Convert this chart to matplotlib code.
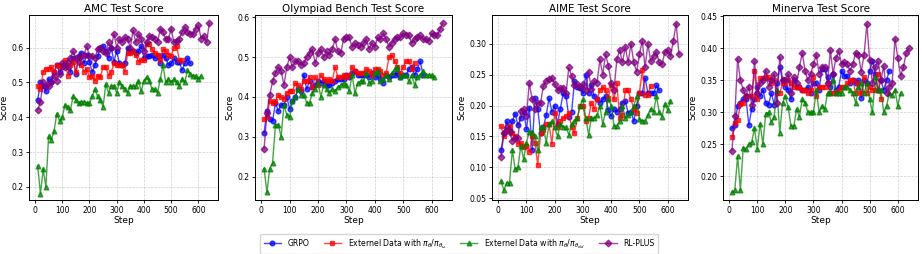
import numpy as np
import matplotlib
matplotlib.use("Agg")
import matplotlib.pyplot as plt

# steps: every 10 steps starting at 10
steps_grpo = np.arange(10, 580, 10)
steps_ext_w = np.arange(10, 550, 10)
steps_ext_old = np.arange(10, 620, 10)
steps_plus = np.arange(10, 650, 10)

# ---- AMC ----
amc_grpo = [0.45, 0.50, 0.49, 0.475, 0.51, 0.50, 0.53, 0.55, 0.53, 0.545,
            0.55, 0.545, 0.53, 0.57, 0.525, 0.575, 0.585, 0.555, 0.58, 0.56,
            0.53, 0.55, 0.575, 0.60, 0.605, 0.59, 0.57, 0.60, 0.56, 0.59,
            0.555, 0.55, 0.555, 0.60, 0.59, 0.59, 0.585, 0.59, 0.605, 0.57,
            0.575, 0.575, 0.58, 0.57, 0.575, 0.555, 0.58, 0.57, 0.55, 0.555,
            0.57, 0.56, 0.56, 0.535, 0.555, 0.57, 0.555]
amc_ext_w = [0.49, 0.48, 0.53, 0.54, 0.54, 0.545, 0.53, 0.55, 0.545, 0.55,
             0.565, 0.52, 0.55, 0.56, 0.53, 0.57, 0.55, 0.53, 0.54, 0.515,
             0.52, 0.505, 0.52, 0.515, 0.545, 0.545, 0.52, 0.53, 0.555, 0.55,
             0.55, 0.55, 0.53, 0.585, 0.585, 0.59, 0.58, 0.56, 0.565, 0.565,
             0.61, 0.61, 0.595, 0.585, 0.58, 0.565, 0.595, 0.59, 0.58, 0.575,
             0.60, 0.605, 0.565, 0.565]
amc_ext_old = [0.26, 0.18, 0.25, 0.20, 0.345, 0.335, 0.36, 0.41, 0.39, 0.40,
               0.435, 0.43, 0.42, 0.46, 0.45, 0.44, 0.445, 0.445, 0.44, 0.44,
               0.46, 0.48, 0.46, 0.45, 0.43, 0.495, 0.47, 0.49, 0.49, 0.47,
               0.50, 0.49, 0.48, 0.47, 0.49, 0.49, 0.49, 0.505, 0.475, 0.505,
               0.515, 0.505, 0.48, 0.48, 0.47, 0.51, 0.55, 0.50, 0.51, 0.50,
               0.51, 0.50, 0.49, 0.51, 0.50, 0.535, 0.525, 0.52, 0.52, 0.51,
               0.52]
amc_plus = [0.42, 0.445, 0.50, 0.49, 0.49, 0.50, 0.52, 0.505, 0.525, 0.555,
            0.545, 0.56, 0.57, 0.59, 0.57, 0.56, 0.575, 0.58, 0.605, 0.575,
            0.575, 0.57, 0.595, 0.60, 0.59, 0.585, 0.615, 0.60, 0.64, 0.60,
            0.625, 0.615, 0.63, 0.625, 0.60, 0.65, 0.615, 0.64, 0.625, 0.59,
            0.615, 0.635, 0.63, 0.625, 0.615, 0.655, 0.645, 0.625, 0.625, 0.655,
            0.615, 0.62, 0.625, 0.645, 0.66, 0.645, 0.64, 0.64, 0.655, 0.665,
            0.625, 0.635, 0.615, 0.67]

# ---- Olympiad Bench ----
oly_grpo = [0.31, 0.365, 0.345, 0.34, 0.385, 0.365, 0.38, 0.38, 0.40, 0.37,
            0.39, 0.40, 0.42, 0.415, 0.455, 0.42, 0.44, 0.425, 0.43, 0.44,
            0.435, 0.44, 0.43, 0.43, 0.435, 0.44, 0.445, 0.445, 0.445, 0.455,
            0.45, 0.46, 0.465, 0.455, 0.455, 0.455, 0.455, 0.45, 0.46, 0.45,
            0.455, 0.445, 0.435, 0.455, 0.45, 0.455, 0.455, 0.46, 0.45, 0.455,
            0.455, 0.47, 0.475, 0.455, 0.47, 0.49, 0.455]
oly_ext_w = [0.345, 0.35, 0.39, 0.385, 0.39, 0.405, 0.40, 0.395, 0.41, 0.415,
             0.415, 0.435, 0.43, 0.42, 0.44, 0.44, 0.45, 0.425, 0.45, 0.43,
             0.455, 0.445, 0.44, 0.445, 0.44, 0.475, 0.45, 0.45, 0.455, 0.45,
             0.455, 0.475, 0.465, 0.46, 0.46, 0.46, 0.47, 0.465, 0.455, 0.47,
             0.47, 0.465, 0.455, 0.46, 0.50, 0.505, 0.49, 0.475, 0.46, 0.475,
             0.49, 0.49, 0.47, 0.485]
oly_ext_old = [0.22, 0.16, 0.22, 0.235, 0.33, 0.33, 0.30, 0.38, 0.355, 0.35,
               0.39, 0.40, 0.42, 0.405, 0.405, 0.385, 0.385, 0.41, 0.42, 0.435,
               0.40, 0.43, 0.42, 0.41, 0.42, 0.415, 0.425, 0.43, 0.435, 0.43,
               0.415, 0.455, 0.41, 0.435, 0.44, 0.44, 0.46, 0.435, 0.44, 0.46,
               0.465, 0.44, 0.445, 0.455, 0.445, 0.46, 0.47, 0.475, 0.45, 0.455,
               0.455, 0.44, 0.455, 0.43, 0.45, 0.455, 0.465, 0.455, 0.455, 0.455,
               0.45]
oly_plus = [0.27, 0.36, 0.405, 0.44, 0.46, 0.475, 0.465, 0.43, 0.475, 0.50,
            0.475, 0.49, 0.49, 0.48, 0.485, 0.50, 0.51, 0.52, 0.485, 0.51,
            0.52, 0.50, 0.515, 0.505, 0.52, 0.545, 0.515, 0.51, 0.545, 0.55,
            0.55, 0.525, 0.535, 0.53, 0.525, 0.535, 0.545, 0.52, 0.535, 0.525,
            0.55, 0.545, 0.56, 0.545, 0.525, 0.535, 0.545, 0.55, 0.55, 0.56,
            0.555, 0.555, 0.535, 0.545, 0.55, 0.555, 0.545, 0.545, 0.54, 0.56,
            0.555, 0.555, 0.57, 0.585]

# ---- AIME ----
aime_grpo = [0.128, 0.155, 0.175, 0.16, 0.175, 0.187, 0.168, 0.18, 0.19, 0.162,
             0.197, 0.128, 0.212, 0.195, 0.155, 0.165, 0.185, 0.212, 0.19, 0.20,
             0.17, 0.195, 0.22, 0.215, 0.182, 0.19, 0.24, 0.23, 0.228, 0.22,
             0.25, 0.22, 0.233, 0.215, 0.21, 0.205, 0.21, 0.215, 0.193, 0.183,
             0.195, 0.19, 0.195, 0.205, 0.208, 0.188, 0.19, 0.175, 0.20, 0.22,
             0.22, 0.245, 0.22, 0.22, 0.22, 0.233, 0.225]
aime_ext_w = [0.167, 0.15, 0.16, 0.167, 0.155, 0.15, 0.138, 0.14, 0.133, 0.135,
              0.125, 0.15, 0.14, 0.104, 0.155, 0.16, 0.17, 0.17, 0.138, 0.188,
              0.165, 0.175, 0.18, 0.183, 0.188, 0.165, 0.155, 0.18, 0.20, 0.20,
              0.175, 0.18, 0.205, 0.195, 0.21, 0.225, 0.23, 0.225, 0.212, 0.233,
              0.21, 0.237, 0.18, 0.185, 0.225, 0.225, 0.21, 0.195, 0.188, 0.22,
              0.258, 0.218, 0.218, 0.232]
aime_ext_old = [0.078, 0.063, 0.075, 0.075, 0.128, 0.097, 0.10, 0.135, 0.113, 0.14,
                0.158, 0.158, 0.15, 0.128, 0.165, 0.165, 0.14, 0.17, 0.175, 0.165,
                0.15, 0.17, 0.165, 0.165, 0.153, 0.17, 0.175, 0.18, 0.20, 0.21,
                0.18, 0.153, 0.18, 0.18, 0.185, 0.20, 0.17, 0.19, 0.21, 0.20,
                0.167, 0.167, 0.175, 0.20, 0.18, 0.185, 0.19, 0.20, 0.215, 0.178,
                0.175, 0.175, 0.185, 0.195, 0.19, 0.215, 0.19, 0.182, 0.203, 0.193,
                0.207]
aime_plus = [0.117, 0.155, 0.165, 0.157, 0.143, 0.148, 0.147, 0.192, 0.195, 0.183,
             0.237, 0.21, 0.195, 0.205, 0.205, 0.232, 0.24, 0.243, 0.245, 0.235,
             0.225, 0.228, 0.228, 0.22, 0.262, 0.248, 0.233, 0.235, 0.23, 0.235,
             0.225, 0.255, 0.227, 0.24, 0.237, 0.275, 0.25, 0.283, 0.265, 0.237,
             0.225, 0.275, 0.29, 0.27, 0.295, 0.27, 0.30, 0.27, 0.255, 0.283,
             0.305, 0.262, 0.30, 0.272, 0.28, 0.287, 0.27, 0.267, 0.287, 0.29,
             0.28, 0.305, 0.333, 0.283]

# ---- Minerva ----
min_grpo = [0.275, 0.28, 0.31, 0.315, 0.32, 0.32, 0.28, 0.305, 0.32, 0.34,
            0.325, 0.335, 0.315, 0.312, 0.33, 0.312, 0.345, 0.37, 0.35, 0.34,
            0.335, 0.32, 0.35, 0.34, 0.34, 0.335, 0.335, 0.34, 0.33, 0.345,
            0.345, 0.335, 0.368, 0.368, 0.355, 0.34, 0.36, 0.335, 0.34, 0.365,
            0.357, 0.357, 0.345, 0.35, 0.345, 0.35, 0.323, 0.35, 0.345, 0.365,
            0.38, 0.36, 0.335, 0.35, 0.335, 0.35, 0.365]
min_ext_w = [0.262, 0.283, 0.288, 0.313, 0.315, 0.325, 0.325, 0.325, 0.365, 0.32,
             0.353, 0.353, 0.355, 0.355, 0.345, 0.35, 0.33, 0.33, 0.345, 0.345,
             0.35, 0.345, 0.34, 0.34, 0.34, 0.335, 0.335, 0.33, 0.335, 0.355,
             0.325, 0.34, 0.34, 0.34, 0.345, 0.33, 0.33, 0.33, 0.335, 0.34,
             0.34, 0.345, 0.35, 0.35, 0.33, 0.345, 0.33, 0.355, 0.33, 0.34,
             0.335, 0.335, 0.36, 0.32]
min_ext_old = [0.175, 0.178, 0.232, 0.178, 0.245, 0.243, 0.25, 0.253, 0.275, 0.243,
               0.282, 0.25, 0.298, 0.30, 0.285, 0.292, 0.335, 0.268, 0.315, 0.325,
               0.308, 0.278, 0.278, 0.305, 0.293, 0.32, 0.315, 0.30, 0.30, 0.30,
               0.335, 0.30, 0.31, 0.305, 0.33, 0.33, 0.35, 0.33, 0.33, 0.33,
               0.34, 0.34, 0.335, 0.33, 0.315, 0.34, 0.345, 0.33, 0.345, 0.32,
               0.30, 0.355, 0.335, 0.335, 0.30, 0.31, 0.33, 0.327, 0.335, 0.31,
               0.33]
min_plus = [0.24, 0.295, 0.383, 0.35, 0.335, 0.325, 0.34, 0.312, 0.38, 0.33,
            0.345, 0.35, 0.365, 0.34, 0.35, 0.36, 0.315, 0.387, 0.35, 0.35,
            0.36, 0.33, 0.355, 0.345, 0.37, 0.393, 0.365, 0.35, 0.36, 0.375,
            0.39, 0.36, 0.37, 0.37, 0.345, 0.397, 0.36, 0.385, 0.395, 0.375,
            0.378, 0.375, 0.365, 0.375, 0.393, 0.39, 0.363, 0.39, 0.438, 0.382,
            0.345, 0.37, 0.38, 0.35, 0.372, 0.33, 0.34, 0.345, 0.415, 0.385,
            0.357, 0.37, 0.393, 0.40]

labels = ["GRPO",
          r"Externel Data with $\pi_\theta/\pi_{\theta_\omega}$",
          r"Externel Data with $\pi_\theta/\pi_{\theta_{old}}$",
          "RL-PLUS"]
colors = ["blue", "red", "green", "purple"]
markers = ["o", "s", "^", "D"]
step_sets = [steps_grpo, steps_ext_w, steps_ext_old, steps_plus]

panels = [
    ("AMC Test Score", [amc_grpo, amc_ext_w, amc_ext_old, amc_plus],
     (0.162, 0.694), np.arange(0.2, 0.61, 0.1), "%.1f"),
    ("Olympiad Bench Test Score", [oly_grpo, oly_ext_w, oly_ext_old, oly_plus],
     (0.141, 0.606), np.arange(0.2, 0.61, 0.1), "%.1f"),
    ("AIME Test Score", [aime_grpo, aime_ext_w, aime_ext_old, aime_plus],
     (0.047, 0.347), np.arange(0.05, 0.31, 0.05), "%.2f"),
    ("Minerva Test Score", [min_grpo, min_ext_w, min_ext_old, min_plus],
     (0.163, 0.452), np.arange(0.20, 0.46, 0.05), "%.2f"),
]

# axes boxes in pixels (left, right)
W, H = 922, 254
boxes = [(29, 218), (255, 452), (492, 688), (723, 918)]
top, bottom = 15, 200

fig = plt.figure(figsize=(W / 100, H / 100), dpi=100)

handles = []
for (title, series, ylim, yticks, fmt), (l, r) in zip(panels, boxes):
    ax = fig.add_axes([l / W, 1 - bottom / H, (r - l) / W, (bottom - top) / H])
    for st, ys, c, m, lab in zip(step_sets, series, colors, markers, labels):
        h, = ax.plot(st, ys, color=c, marker=m, markersize=3.4, linewidth=1.0,
                     alpha=0.72, label=lab)
        if len(handles) < 4:
            handles.append(h)
    ax.set_title(title, fontsize=7.5, pad=2.5)
    ax.set_xlabel("Step", fontsize=6.5, labelpad=1)
    ax.set_ylabel("Score", fontsize=6.5, labelpad=2)
    ax.set_ylim(*ylim)
    ax.set_xlim(-22, 672)
    ax.set_xticks(np.arange(0, 601, 100))
    ax.set_yticks(yticks)
    ax.yaxis.set_major_formatter(matplotlib.ticker.FormatStrFormatter(fmt))
    ax.tick_params(labelsize=5.5, length=2.5, width=0.6, pad=1.5)
    ax.grid(True, linestyle="--", linewidth=0.5, alpha=0.6)
    for sp in ax.spines.values():
        sp.set_linewidth(0.7)

fig.legend(handles, labels, loc="center", bbox_to_anchor=(0.498, 0.04),
           ncol=4, fontsize=5.6, frameon=True, handlelength=2.2,
           columnspacing=1.8, borderpad=0.45, handletextpad=0.9)

fig.savefig("out.png", dpi=100)
